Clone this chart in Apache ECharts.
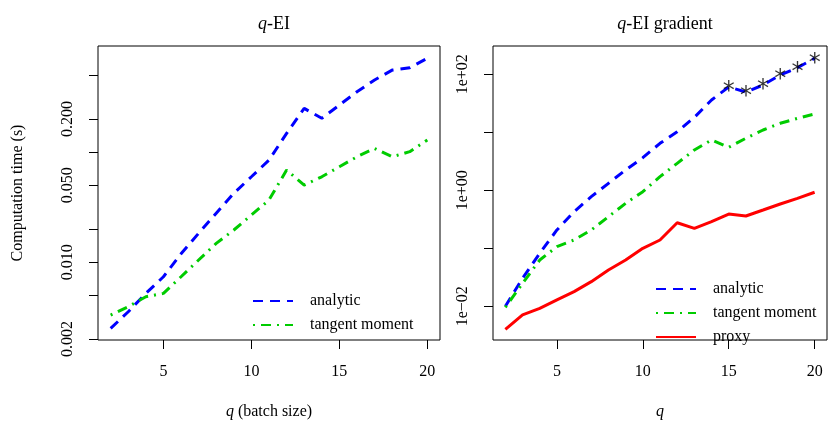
<!DOCTYPE html>
<html><head><meta charset="utf-8">
<script src="https://cdn.jsdelivr.net/npm/echarts@6/dist/echarts.min.js"></script>
<style>html,body{margin:0;padding:0;background:#fff}#c{width:830px;height:428px}</style>
</head><body><div id="c"></div>
<script>
const qValues = [2,3,4,5,6,7,8,9,10,11,12,13,14,15,16,17,18,19,20];
const eiAnalytic = [0.0025,0.00354,0.0052,0.00736,0.0119,0.0183,0.0278,0.0423,0.0597,0.0847,0.148,0.250,0.203,0.268,0.354,0.453,0.557,0.585,0.713];
const eiTangent = [0.0033,0.00394,0.00485,0.0052,0.00736,0.01045,0.0148,0.0196,0.0268,0.0367,0.0687,0.0502,0.0597,0.0736,0.0908,0.108,0.0908,0.101,0.129];
const gradAnalytic = [0.01,0.0304,0.082,0.207,0.428,0.776,1.32,2.24,3.65,6.46,10.2,18.1,36.1,60.4,49.5,65.4,97.3,130,189];
const gradTangent = [0.0096,0.0249,0.0628,0.107,0.139,0.207,0.351,0.597,0.946,1.72,2.92,4.96,7.36,5.51,7.89,10.96,14.3,17.4,20.7];
const gradProxy = [0.0040,0.0071,0.0092,0.0129,0.0179,0.0266,0.0423,0.0628,0.100,0.139,0.276,0.221,0.288,0.390,0.360,0.457,0.581,0.728,0.925];
const starFromQ = 15;
const xTicks = [5,10,15,20];
const leftTicks = [0.002,0.005,0.01,0.02,0.05,0.1,0.2,0.5];
const leftLabels = [0.002,0.01,0.05,0.2];
const rightTicks = [0.01,0.1,1,10,100];
const rightLabels = [0.01,1,100];

const L = Math.log10;
const pts = arr => arr.map((v,i)=>[qValues[i], L(v)]);
const FONT = 'Liberation Serif';
const BLUE='#0000ff', GREEN='#00cc00', RED='#ff0000';
const dash=[10,7], dotdash=[2,6,10,6];

function xAxis(idx, nameRich){
  return {type:'value', gridIndex:idx, min:1.28, max:20.72,
    axisLine:{show:false, onZero:false}, splitLine:{show:false},
    axisTick:{show:true, length:9, inside:false, customValues:xTicks, lineStyle:{color:'#000'}},
    axisLabel:{customValues:xTicks, margin:24, color:'#000', fontFamily:FONT, fontSize:16},
    name:nameRich, nameLocation:'middle', nameGap:64,
    nameTextStyle:{color:'#000', fontFamily:FONT, fontSize:16, rich:{i:{fontStyle:'italic', fontFamily:FONT, fontSize:16, color:'#000'}}}
  };
}
function yAxis(idx, min, max, ticks, labels, fmt, extra){
  return Object.assign({type:'value', gridIndex:idx, min:min, max:max,
    axisLine:{show:false, onZero:false}, splitLine:{show:false},
    axisTick:{show:true, length:9, customValues:ticks.map(L), lineStyle:{color:'#000'}},
    axisLabel:{customValues:labels.map(L), rotate:90, margin:22, color:'#000', fontFamily:FONT, fontSize:16, formatter:fmt}
  }, extra||{});
}
function line(name, data, color, type, xi){
  return {name:name, type:'line', xAxisIndex:xi, yAxisIndex:xi, data:pts(data), symbol:'none', silent:true,
    lineStyle:{color:color, width:3, type:type}, itemStyle:{color:color}};
}
const rightFmt = v => { const e=Math.round(v); return '1e'+(e<0?'\u2212':'+')+String(Math.abs(e)).padStart(2,'0'); };

const titleRich = {i:{fontStyle:'italic', fontFamily:FONT, fontSize:18, color:'#000'}};
const legendBase = {orient:'vertical', itemWidth:40, itemHeight:12, itemGap:8, selectedMode:false,
  itemStyle:{color:'transparent', borderWidth:0, opacity:0},
  textStyle:{fontFamily:FONT, fontSize:16, color:'#000', padding:[0,0,0,12]}};
const option = {
  animation:false, backgroundColor:'#fff',
  title:[
    {text:'{i|q}-EI', left:269, top:10, textAlign:'center', textStyle:{fontFamily:FONT, fontSize:18, fontWeight:'normal', color:'#000', rich:titleRich}},
    {text:'{i|q}-EI gradient', left:660, top:10, textAlign:'center', textStyle:{fontFamily:FONT, fontSize:18, fontWeight:'normal', color:'#000', rich:titleRich}}
  ],
  grid:[
    {left:98, right:390, top:46, bottom:88, show:true, borderColor:'#000', borderWidth:1, backgroundColor:'transparent'},
    {left:493, right:3, top:46, bottom:88, show:true, borderColor:'#000', borderWidth:1, backgroundColor:'transparent'}
  ],
  xAxis:[xAxis(0,'{i|q} (batch size)'), xAxis(1,'{i|q}')],
  yAxis:[
    yAxis(0,-2.708,-0.035,leftTicks,leftLabels, v=>Math.pow(10,v).toFixed(3),
      {name:'Computation time (s)', nameLocation:'middle', nameRotate:90, nameGap:72,
       nameTextStyle:{color:'#000', fontFamily:FONT, fontSize:16}}),
    yAxis(1,-2.581,2.488,rightTicks,rightLabels,rightFmt)
  ],
  legend:[
    Object.assign({data:['analytic','tangent moment'], left:247, top:288}, legendBase),
    Object.assign({data:['analytic ','tangent moment ','proxy'], left:650, top:276}, legendBase)
  ],
  series:[
    line('analytic', eiAnalytic, BLUE, dash, 0),
    line('tangent moment', eiTangent, GREEN, dotdash, 0),
    line('analytic ', gradAnalytic, BLUE, dash, 1),
    line('tangent moment ', gradTangent, GREEN, dotdash, 1),
    line('proxy', gradProxy, RED, 'solid', 1),
    {type:'scatter', xAxisIndex:1, yAxisIndex:1, symbolSize:1, itemStyle:{color:'transparent'}, silent:true, z:5,
     data:pts(gradAnalytic).filter(p=>p[0]>=starFromQ),
     label:{show:true, position:'inside', formatter:'*', fontFamily:'DejaVu Sans', fontSize:24, color:'#000', offset:[0,5]}}
  ]
};
echarts.init(document.getElementById('c')).setOption(option);
</script></body></html>
